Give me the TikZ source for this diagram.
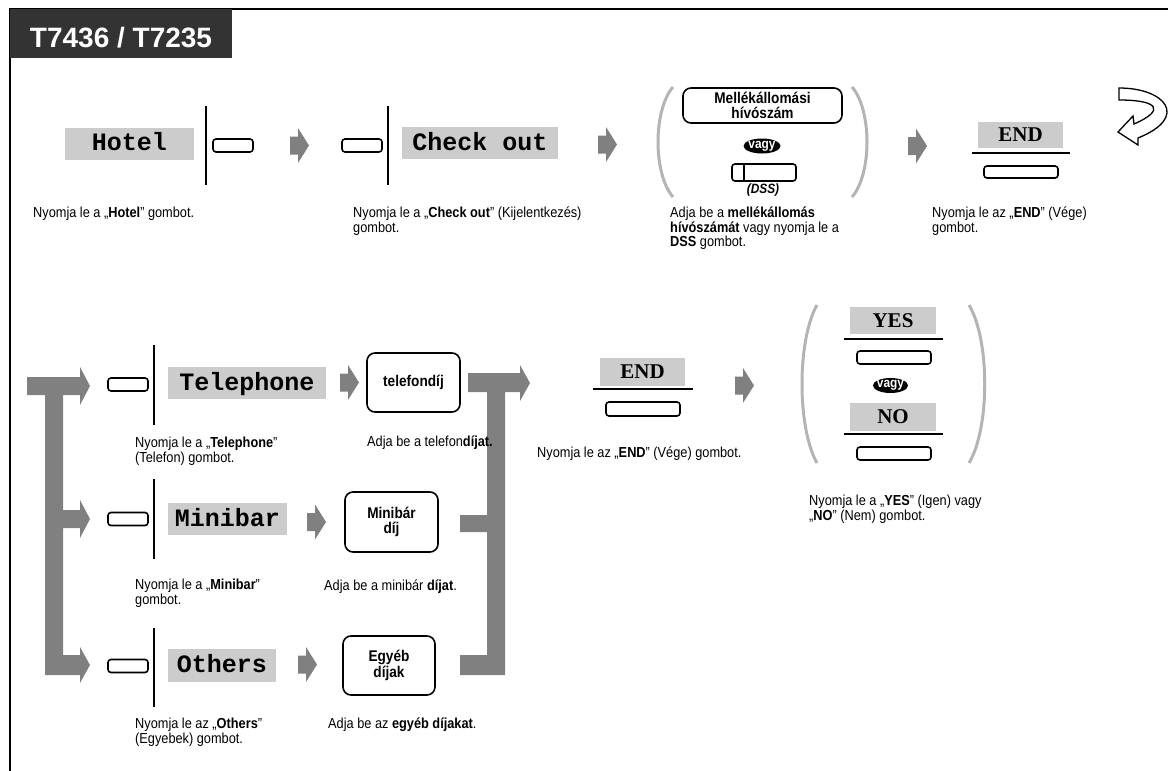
\documentclass[tikz,border=0pt]{standalone}
\usepackage{fontspec}
\setmainfont{Liberation Sans}
\newfontfamily\descfont{Liberation Sans}[FakeStretch=0.88]
\newfontfamily\keymono{Liberation Mono}
\newfontfamily\keyserif{Liberation Serif}
\usepackage{tikz}
\usetikzlibrary{shapes.geometric, calc}
\definecolor{keygray}{HTML}{CCCCCC}
\definecolor{arrowgray}{HTML}{808080}
\definecolor{bracegray}{HTML}{B4B4B4}
\definecolor{hdrgray}{HTML}{333333}
\tikzset{
  key/.style={fill=keygray, inner sep=0pt, minimum height=32pt, text height=14pt, text depth=0pt,
    font=\keymono\bfseries\fontsize{25}{25}\selectfont},
  softkey/.style={fill=keygray, inner sep=0pt, minimum width=86pt, minimum height=27pt, text height=13.5pt, text depth=0pt,
    font=\keyserif\bfseries\fontsize{21}{21}\selectfont},
  btn/.style={draw, line width=1.6pt, rounded corners=3pt, minimum width=40pt, minimum height=13pt, inner sep=0pt},
  longbtn/.style={btn, minimum width=74pt},
  entry/.style={draw, line width=1.6pt, rounded corners=8pt, inner sep=0pt, align=center,
    font=\descfont\bfseries\fontsize{15.5}{14.5}\selectfont},
  vagy/.style={ellipse, fill=black, text=white, inner xsep=-4pt, inner ysep=-3pt, minimum width=37pt, minimum height=15pt,
    font=\descfont\bfseries\fontsize{13.5}{13.5}\selectfont},
  desc/.style={anchor=north west, inner sep=0pt, align=left, font=\descfont\fontsize{14.5}{14.5}\selectfont,
    execute at begin node=\strut},
  bar/.style={line width=2.5pt},
  brace/.style={bracegray, line width=3pt},
  rule/.style={line width=1.2pt},
  blockarrow/.pic={\fill[arrowgray] (0,-9) -- (8,-9) -- (8,-17.5) -- (19,0) -- (8,17.5) -- (8,9) -- (0,9) -- cycle;}
}
\begin{document}
\begin{tikzpicture}[x=1pt,y=-1pt]
  \useasboundingbox (0,0) rectangle (1168,771);
  % frame and title
  \draw[line width=2pt] (1168,9) -- (10,9) -- (10,771);
  \node[fill=hdrgray, anchor=north west, minimum width=222pt, minimum height=49pt, inner sep=0pt] (hdr) at (10,9) {};
  \node[anchor=base, text=white, inner sep=0pt, font=\bfseries\fontsize{28}{28}\selectfont] (hdrtext) at (121,47) {T7436 / T7235};

  % first row
  \node[key, minimum width=129pt] (hotel) at (129.5,143.5) {Hotel};
  \draw[bar] (206,106) -- (206,185);
  \node[btn] (hotelbtn) at (233,145.5) {};
  \pic (a1) at (290,145.5) {blockarrow};
  \node[btn] (cobtn) at (362,145.5) {};
  \draw[bar] (388,106) -- (388,185);
  \node[key, minimum width=156pt] (checkout) at (480,143) {Check out};
  \pic (a2) at (598,144.5) {blockarrow};
  \draw[brace] (673,87) .. controls (653,110) and (653,174) .. (673,197);
  \draw[brace] (852,87) .. controls (872,110) and (872,174) .. (852,197);
  \node[entry, minimum width=159pt, minimum height=35pt] (ext) at (762.5,105.5) {Mellékállomási\\hívószám};
  \node[vagy] (or1) at (762,146) {vagy};
  \node[btn, minimum width=64pt, minimum height=17pt] (dss) at (764,172.5) {};
  \draw[line width=1.6pt] ([xshift=13pt]dss.north west) -- ([xshift=13pt]dss.south west);
  \node[inner sep=0pt, font=\descfont\bfseries\itshape\fontsize{13.5}{13.5}\selectfont] (dsstext) at (763,190) {(DSS)};
  \pic (a3) at (908,146) {blockarrow};
  \node[softkey, minimum width=85pt, minimum height=26pt] (end1) at (1020.5,135) {END};
  \draw[rule] (972,153) -- (1070,153);
  \node[longbtn, minimum height=12pt] (end1btn) at (1021,172) {};
  % turn over
  \draw[line width=1.3pt, fill=white] (1119,88) .. controls (1165,88) and (1190,117) .. (1138,138)
    -- (1138,145) -- (1118,132) -- (1133,116) -- (1134,124)
    .. controls (1166,110) and (1158,100) .. (1119,100) -- cycle;

  \node[desc] (d1) at (33,207) {Nyomja le a „\textbf{Hotel}” gombot.};
  \node[desc] (d2) at (353,207) {Nyomja le a „\textbf{Check out}” (Kijelentkezés)\\gombot.};
  \node[desc] (d3) at (670,207) {Adja be a \textbf{mellékállomás}\\\textbf{hívószámát} vagy nyomja le a\\\textbf{DSS} gombot.};
  \node[desc] (d4) at (932,207) {Nyomja le az „\textbf{END}” (Vége)\\gombot.};

  % branch arrows
  \fill[arrowgray] (27,377) -- (80,377) -- (80,367) -- (90,386) -- (80,405) -- (80,395) -- (63,395)
    -- (63,510) -- (80,510) -- (80,500) -- (90,519) -- (80,538) -- (80,528) -- (63,528)
    -- (63,655) -- (80,655) -- (80,647) -- (90,665) -- (80,683) -- (80,675) -- (45,675)
    -- (45,395) -- (27,395) -- cycle;
  \fill[arrowgray] (468,373) -- (520,373) -- (520,365) -- (530,383) -- (520,401) -- (520,392) -- (505,392)
    -- (505,675) -- (460,675) -- (460,655) -- (487,655) -- (487,532) -- (460,532) -- (460,515)
    -- (487,515) -- (487,392) -- (468,392) -- cycle;

  % telephone
  \node[btn] (telbtn) at (128,384.5) {};
  \draw[bar] (154,345) -- (154,425);
  \node[key, minimum width=158pt] (tel) at (247,383) {Telephone};
  \pic (a4) at (340,382.5) {blockarrow};
  \node[entry, minimum width=93pt, minimum height=59pt] (telfee) at (413.5,382.5) {telefondíj};
  \node[desc] (d5) at (135,437) {Nyomja le a „\textbf{Telephone}”\\(Telefon) gombot.};
  \node[desc] (d6) at (367,436) {Adja be a telefon\textbf{díjat.}};

  % minibar
  \node[btn] (minibtn) at (128,519) {};
  \draw[bar] (154,479) -- (154,559);
  \node[key, minimum width=119pt] (mini) at (227.5,519) {Minibar};
  \pic (a5) at (307,522) {blockarrow};
  \node[entry, minimum width=93pt, minimum height=60pt] (minifee) at (391.5,522) {Minibár\\díj};
  \node[desc] (d7) at (135,579) {Nyomja le a „\textbf{Minibar}”\\gombot.};
  \node[desc] (d8) at (324,580) {Adja be a minibár \textbf{díjat}.};

  % others
  \node[btn] (othbtn) at (128,666) {};
  \draw[bar] (154,628) -- (154,707);
  \node[key, minimum width=108pt, minimum height=33pt] (oth) at (222,665.5) {Others};
  \pic (a6) at (298,664.5) {blockarrow};
  \node[entry, minimum width=92pt, minimum height=59pt] (othfee) at (389,665.5) {Egyéb\\díjak};
  \node[desc] (d9) at (135,718) {Nyomja le az „\textbf{Others}”\\(Egyebek) gombot.};
  \node[desc] (d10) at (328,718) {Adja be az \textbf{egyéb díjakat}.};

  % end and confirm
  \node[softkey, minimum width=85pt, minimum height=28pt] (end2) at (642.5,372) {END};
  \draw[rule] (593,389) -- (693,389);
  \node[longbtn, minimum height=14pt] (end2btn) at (643,409) {};
  \node[desc] (d11) at (537,447) {Nyomja le az „\textbf{END}” (Vége) gombot.};
  \pic (a7) at (735,385.5) {blockarrow};
  \draw[brace] (817,305) .. controls (797,340) and (797,428) .. (817,463);
  \draw[brace] (969,305) .. controls (990,340) and (990,428) .. (969,463);
  \node[softkey] (yes) at (893,320.5) {YES};
  \draw[rule] (844,339) -- (943,339);
  \node[longbtn] (yesbtn) at (894,357.5) {};
  \node[vagy, minimum width=35pt] (or2) at (890.5,385.5) {vagy};
  \node[softkey, minimum height=28pt] (no) at (893,417) {NO};
  \draw[rule] (844,434) -- (943,434);
  \node[longbtn] (nobtn) at (894,453.5) {};
  \node[desc] (d12) at (809,495) {Nyomja le a „\textbf{YES}” (Igen) vagy\\„\textbf{NO}” (Nem) gombot.};
\end{tikzpicture}
\end{document}
